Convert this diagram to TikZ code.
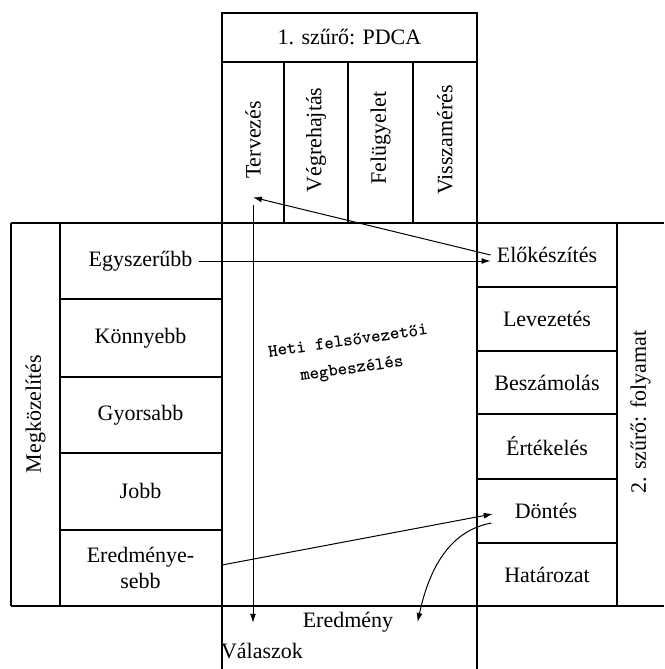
\documentclass[tikz,border=0pt]{standalone}
\usepackage{fontspec}
\setmainfont{Liberation Serif}
\usetikzlibrary{arrows.meta}

\begin{document}
\begin{tikzpicture}[
  x=0.5pt, y=-0.5pt, >={Latex[length=4.5pt,width=3pt]},
  font=\fontsize{11}{13}\selectfont,
  frame/.style={line width=0.9pt},
  lbl/.style={inner sep=3pt, align=center},
  vlbl/.style={inner sep=3pt, rotate=90},
  conn/.style={->, line width=0.5pt}
]
  \useasboundingbox (0,0) rectangle (664,669);
  % grid
  \draw[frame] (222,669) -- (222,13) -- (477,13) -- (477,669);
  \draw[frame] (222,62) -- (477,62);
  \foreach \x in {284,348,413} \draw[frame] (\x,62) -- (\x,223);
  \draw[frame] (11,223) -- (664,223);
  \draw[frame] (11,606) -- (664,606);
  \draw[frame] (11,223) -- (11,606);
  \draw[frame] (60,223) -- (60,606);
  \draw[frame] (617,223) -- (617,606);
  \foreach \y in {299,377,453,530} \draw[frame] (60,\y) -- (222,\y);
  \foreach \y in {287,351,414,479,543} \draw[frame] (477,\y) -- (617,\y);

  % 1. filter
  \node[lbl] (pdca) at (349.5,37) {1. szűrő: PDCA};
  \node[vlbl] (terv) at (253,140) {Tervezés};
  \node[vlbl] (vegr) at (316,140) {Végrehajtás};
  \node[vlbl] (felu) at (380.5,138) {Felügyelet};
  \node[vlbl] (vissz) at (445,140) {Visszamérés};

  % approach
  \node[vlbl] (megk) at (35.5,414) {Megközelítés};
  \node[lbl] (egy) at (140.5,261) {Egyszerűbb};
  \node[lbl] (konny) at (140.5,338) {Könnyebb};
  \node[lbl] (gyors) at (140.5,415) {Gyorsabb};
  \node[lbl] (jobb) at (140.5,491) {Jobb};
  \node[lbl] (ered) at (140.5,568) {Eredménye-\\sebb};

  % 2. filter
  \node[lbl] (elo) at (547,255) {Előkészítés};
  \node[lbl] (levez) at (547,319) {Levezetés};
  \node[lbl] (besz) at (547,383) {Beszámolás};
  \node[lbl] (ertek) at (547,446) {Értékelés};
  \node[lbl] (dont) at (546,511) {Döntés};
  \node[lbl] (hat) at (547,575) {Határozat};
  \node[vlbl] (szuro) at (640.5,412) {2. szűrő: folyamat};

  % meeting
  \node[lbl, rotate=8, font=\fontsize{9}{14}\selectfont\ttfamily\bfseries] (heti) at (350,356) {Heti felsővezetői\\megbeszélés};
  \node[lbl] (eredm) at (348,622) {Eredmény};
  \node[lbl] (val) at (262,651) {Válaszok};

  \coordinate (ered-out) at (222,565);

  \draw[conn] (egy.east) -- (egy.east -| elo.west);
  \draw[conn] (elo.west) -- ([yshift=-6pt]terv.west);
  \draw[conn, shorten <=10pt, shorten >=7pt] (terv.west) -- (terv.west |- val.north);
  \draw[conn, shorten >=8pt] (ered-out) -- (dont.west);
  \draw[conn] ([xshift=-8.5pt,yshift=-6pt]dont.west) .. controls +(-38,7) and +(13,-60) .. ([xshift=9pt]eredm.east);
\end{tikzpicture}
\end{document}
